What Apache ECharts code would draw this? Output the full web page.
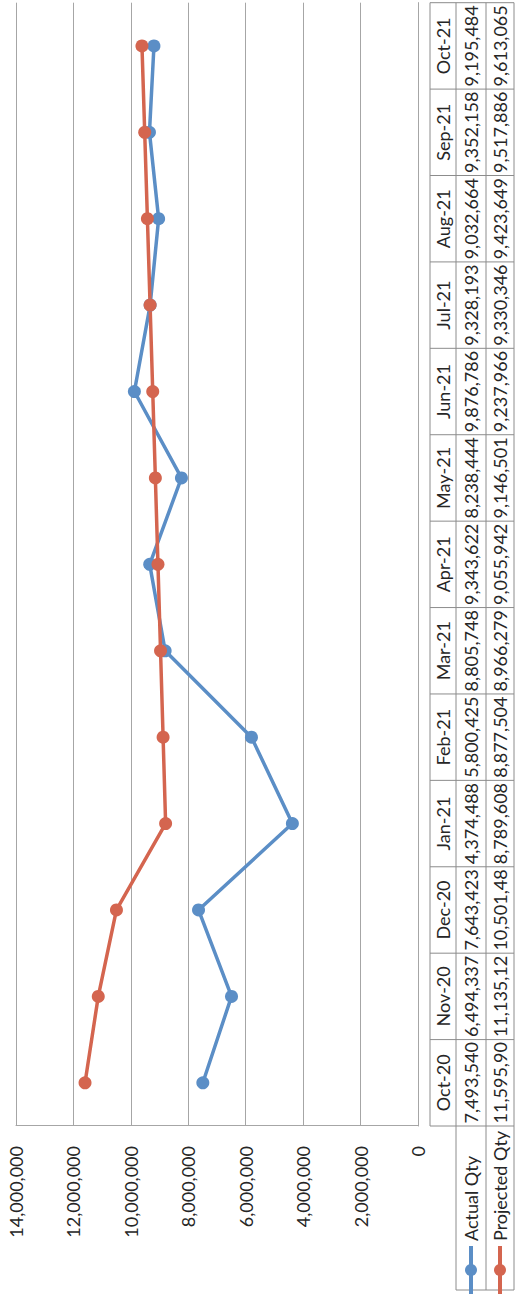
<!DOCTYPE html>
<html>
<head>
<meta charset="utf-8">
<script src="https://cdn.jsdelivr.net/npm/echarts@6/dist/echarts.min.js"></script>
<style>
  html, body { margin: 0; padding: 0; background: #fff; width: 515px; height: 1300px; overflow: hidden; }
  /* the landscape chart is laid on its side so it fills the tall page */
  #wrap { position: absolute; left: 0; top: 1300px; width: 1300px; height: 515px;
          transform-origin: 0 0; transform: rotate(-90deg); }
  #chart { width: 1300px; height: 515px; }
</style>
</head>
<body>
<div id="wrap"><div id="chart"></div></div>
<script>
// Monthly quantities, Oct 2020 – Oct 2021
const months = ['Oct-20', 'Nov-20', 'Dec-20', 'Jan-21', 'Feb-21', 'Mar-21', 'Apr-21',
                'May-21', 'Jun-21', 'Jul-21', 'Aug-21', 'Sep-21', 'Oct-21'];
const actualQty = [7493540, 6494337, 7643423, 4374488, 5800425, 8805748, 9343622,
                   8238444, 9876786, 9328193, 9032664, 9352158, 9195484];
const projectedQty = [11595905, 11135125, 10501485, 8789608, 8877504, 8966279, 9055942,
                      9146501, 9237966, 9330346, 9423649, 9517886, 9613065];
const seriesNames = ['Actual Qty', 'Projected Qty'];
const valueMin = 0;
const valueMax = 14000000;
const valueStep = 2000000;

const FONT = 'Lato, "Open Sans", sans-serif';
const TEXT = '#262626';
const GRID = '#a6a6a6';
const TABLE = '#8c8c8c';
const BLUE = '#5b8ec6';
const RED = '#d4654f';

const withCommas = v => String(Math.round(v)).replace(/\B(?=(\d{3})+(?!\d))/g, ',');

const chart = echarts.init(document.getElementById('chart'), null, { renderer: 'svg' });

const cellLabel = (margin) => ({
  interval: 0, margin: margin, fontSize: 18, lineHeight: 18, fontFamily: FONT, color: TEXT,
  width: 86, overflow: 'truncate', ellipsis: ''
});

const lineSeries = (name, values, color) => ({
  name: name, type: 'line', data: values, xAxisIndex: 0, yAxisIndex: 0,
  symbol: 'circle', symbolSize: 13,
  lineStyle: { color: color, width: 3.5 },
  itemStyle: { color: color },
  emphasis: { disabled: true },
  animation: false
});

chart.setOption({
  backgroundColor: '#fff',
  animation: false,
  grid: { left: 174, right: 0, top: 16, bottom: 97 },
  legend: {
    orient: 'vertical', left: 4, top: 461, padding: 0,
    itemWidth: 48, itemHeight: 15, itemGap: 9,
    lineStyle: { width: 4 },
    textStyle: { fontSize: 18, lineHeight: 20, fontFamily: FONT, color: TEXT },
    data: seriesNames, selectedMode: false
  },
  xAxis: [
    { // month header row of the data table
      type: 'category', data: months, position: 'bottom', boundaryGap: true,
      axisLine: { lineStyle: { color: GRID, width: 1 } },
      axisTick: { show: false },
      axisLabel: cellLabel(16)
    },
    { // actual row
      type: 'category', data: actualQty.map(withCommas), position: 'bottom',
      axisLine: { show: false }, axisTick: { show: false },
      axisLabel: cellLabel(44)
    },
    { // projected row
      type: 'category', data: projectedQty.map(withCommas), position: 'bottom',
      axisLine: { show: false }, axisTick: { show: false },
      axisLabel: cellLabel(73)
    }
  ],
  yAxis: {
    type: 'value', min: valueMin, max: valueMax, interval: valueStep,
    axisLine: { show: true, lineStyle: { color: GRID, width: 1 } },
    axisTick: { show: false },
    splitLine: { lineStyle: { color: GRID, width: 1 } },
    axisLabel: { margin: 20, fontSize: 18, fontFamily: FONT, color: TEXT, formatter: withCommas }
  },
  series: [
    lineSeries(seriesNames[0], actualQty, BLUE),
    lineSeries(seriesNames[1], projectedQty, RED)
  ]
});

// Data table borders, laid out from the category axis bands
function drawTable() {
  const centers = months.map((m, i) => chart.convertToPixel({ xAxisIndex: 0 }, i));
  const band = centers[1] - centers[0];
  const edges = [centers[0] - band / 2].concat(centers.map(c => c + band / 2));
  const baseY = chart.convertToPixel({ yAxisIndex: 0 }, valueMin);
  const rows = [baseY + 12, baseY + 38, baseY + 68, baseY + 96];
  const keyLeft = 10;
  const left = edges[0], right = edges[edges.length - 1];
  const els = [];
  const seg = (x1, y1, x2, y2) => els.push({
    type: 'line', silent: true,
    shape: { x1: x1, y1: y1, x2: x2, y2: y2 },
    style: { stroke: TABLE, lineWidth: 1 }
  });
  seg(left, rows[0], right, rows[0]);
  for (let r = 1; r < rows.length; r++) seg(keyLeft, rows[r], right, rows[r]);
  seg(keyLeft, rows[1], keyLeft, rows[3]);
  edges.forEach(x => seg(x, rows[0], x, rows[3]));
  chart.setOption({ graphic: { elements: els } });
}
drawTable();
</script>
</body>
</html>
